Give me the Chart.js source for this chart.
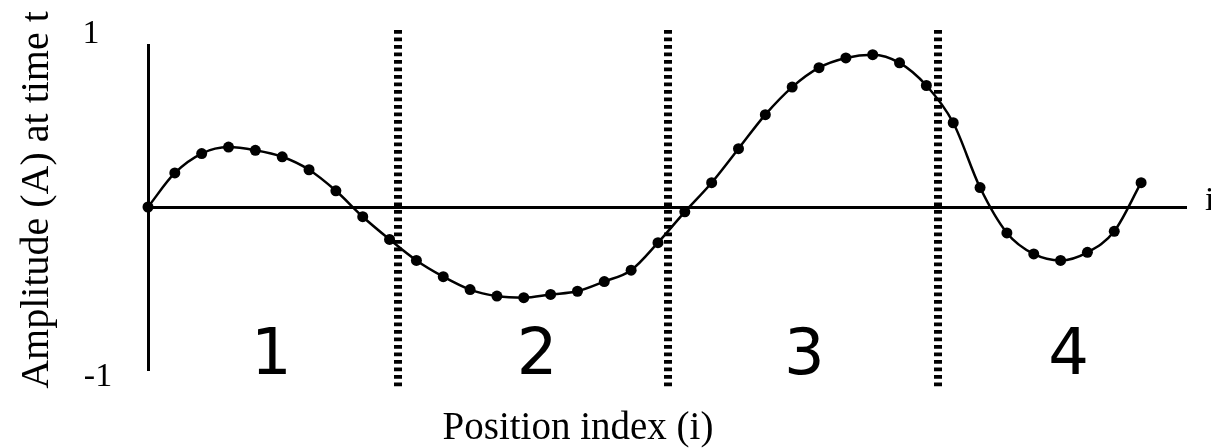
<!DOCTYPE html>
<html>
<head>
<meta charset="utf-8">
<script src="https://cdn.jsdelivr.net/npm/chart.js@4"></script>
<style>
  html, body { margin: 0; padding: 0; background: #fff; }
  #wrap { width: 1211px; height: 448px; }
</style>
</head>
<body>
<div id="wrap"><canvas id="waveChart"></canvas></div>
<script>
// position index of each sample
const positions = [0, 1, 2, 3, 4, 5, 6, 7, 8, 9, 10, 11, 12, 13, 14, 15, 16, 17, 18, 19,
  20, 21, 22, 23, 24, 25, 26, 27, 28, 29, 30, 31, 32, 33, 34, 35, 36, 37];
// amplitude
const amplitudes = [0, 0.21, 0.33, 0.37, 0.35, 0.31, 0.23, 0.10, -0.06, -0.20,
  -0.33, -0.43, -0.51, -0.55, -0.56, -0.54, -0.52, -0.46, -0.39, -0.22,
  -0.03, 0.15, 0.36, 0.57, 0.74, 0.86, 0.92, 0.94, 0.89, 0.75,
  0.52, 0.12, -0.16, -0.29, -0.33, -0.28, -0.15, 0.15];
// dotted separators between the regions (position index)
const dividers = [9.33, 19.39, 29.45];
// region labels and where they sit (position index)
const regionLabels = ["1", "2", "3", "4"];
const regionCenters = [4.6, 14.5, 24.45, 34.3];
const yTickLabels = ["1", "-1"];

const serif = "'Liberation Serif', 'DejaVu Serif', serif";

const overlay = {
  id: "overlay",
  afterDraw(chart) {
    const ctx = chart.ctx;
    const xs = chart.scales.x;
    const ys = chart.scales.y;
    const area = chart.chartArea;

    // dotted separators
    ctx.save();
    ctx.strokeStyle = "#000";
    ctx.lineWidth = 8;
    ctx.setLineDash([3.8, 3.7]);
    dividers.forEach((d) => {
      const px = Math.round(xs.getPixelForValue(d));
      ctx.beginPath();
      ctx.moveTo(px, 30);
      ctx.lineTo(px, 388);
      ctx.stroke();
    });
    ctx.restore();

    // region numbers
    ctx.save();
    ctx.fillStyle = "#000";
    ctx.font = "64px 'DejaVu Sans', sans-serif";
    ctx.textAlign = "center";
    ctx.textBaseline = "alphabetic";
    regionLabels.forEach((t, i) => {
      ctx.fillText(t, xs.getPixelForValue(regionCenters[i]), 374);
    });
    ctx.restore();

    // y tick labels, axis end label, titles
    ctx.save();
    ctx.fillStyle = "#000";
    ctx.font = "34px " + serif;
    ctx.textAlign = "center";
    ctx.textBaseline = "alphabetic";
    ctx.fillText(yTickLabels[0], 91, 43);
    ctx.fillText(yTickLabels[1], 98, 386);
    ctx.textAlign = "left";
    ctx.fillText("i", 1205, 210);

    ctx.textAlign = "center";
    ctx.font = "39px " + serif;
    ctx.fillText("Position index (i)", 578, 439);

    ctx.translate(48, 200);
    ctx.rotate(-Math.PI / 2);
    ctx.font = "40px " + serif;
    ctx.fillText("Amplitude (A) at time t", 0, 0);
    ctx.restore();
  }
};

new Chart(document.getElementById("waveChart"), {
  type: "line",
  data: {
    labels: positions,
    datasets: [{
      data: positions.map((p, i) => ({ x: p, y: amplitudes[i] })),
      borderColor: "#000",
      borderWidth: 2.5,
      backgroundColor: "#000",
      pointRadius: 5.5,
      pointBorderWidth: 0,
      pointBackgroundColor: "#000",
      tension: 0.4,
      cubicInterpolationMode: "monotone",
      fill: false,
      clip: false
    }]
  },
  options: {
    responsive: true,
    maintainAspectRatio: false,
    animation: false,
    events: [],
    layout: { padding: { left: 148, right: 24, top: 45, bottom: 71 } },
    plugins: { legend: { display: false }, tooltip: { enabled: false } },
    scales: {
      x: {
        type: "linear",
        min: 0,
        max: 38.71,
        ticks: { display: false },
        grid: { display: false },
        border: { display: false }
      },
      y: {
        min: -1,
        max: 1,
        ticks: { display: false, stepSize: 1 },
        grid: {
          drawTicks: false,
          lineWidth: 3,
          color: (c) => (c.tick && c.tick.value === 0 ? "#000" : "rgba(0,0,0,0)")
        },
        border: { display: true, color: "#000", width: 3 }
      }
    }
  },
  plugins: [overlay]
});
</script>
</body>
</html>
